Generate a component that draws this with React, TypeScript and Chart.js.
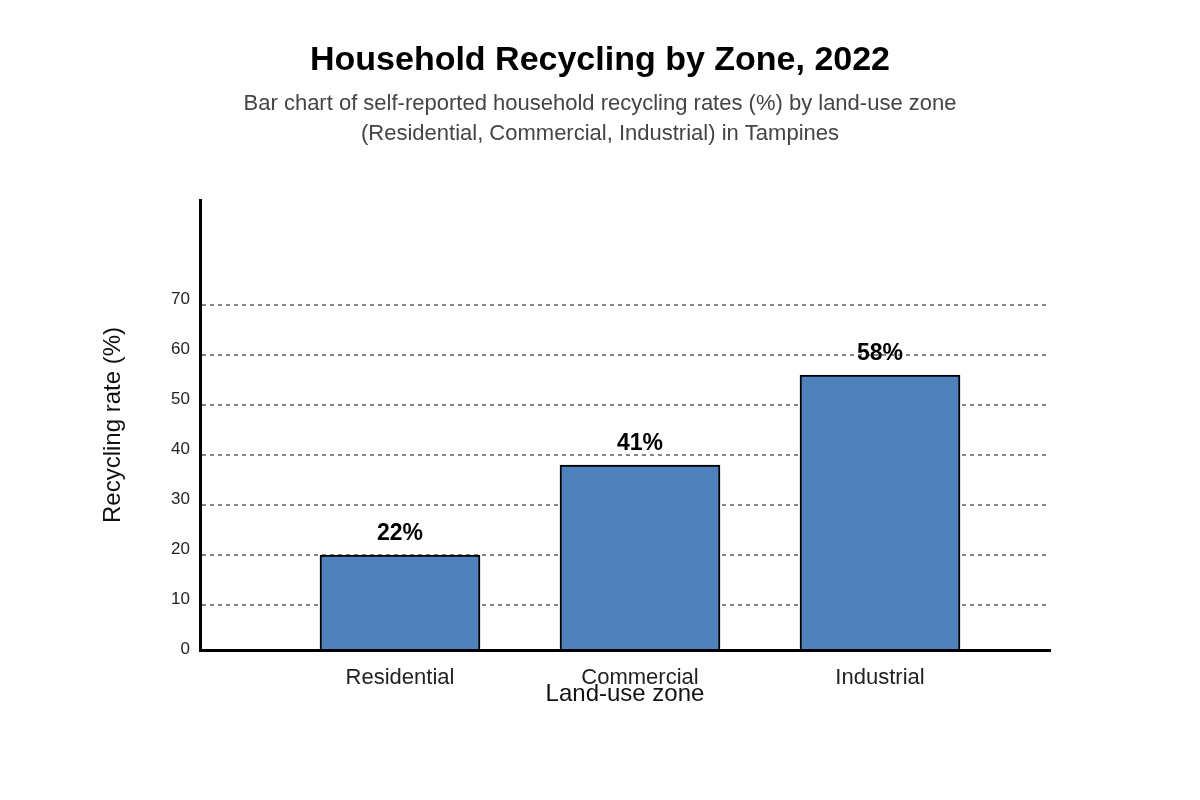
import React, { useEffect, useRef } from "react";
import { Chart, registerables } from "chart.js";

Chart.register(...registerables);

// ---- Data ----
const categories = ["Residential", "Commercial", "Industrial"];
const categoryPositions = [0, 1, 2];
const barValues = [20, 38, 56];
const barLabels = ["22%", "41%", "58%"];
const yTickValues = [0, 10, 20, 30, 40, 50, 60, 70];

const titleText = "Household Recycling by Zone, 2022";
const subtitleLines = [
  "Bar chart of self-reported household recycling rates (%) by land-use zone",
  "(Residential, Commercial, Industrial) in Tampines",
];
const xAxisTitle = "Land-use zone";
const yAxisTitle = "Recycling rate (%)";

const FONT = '"Liberation Sans", Arial, Helvetica, sans-serif';

export default function App() {
  const canvasRef = useRef<HTMLCanvasElement | null>(null);

  useEffect(() => {
    document.body.style.margin = "0";
    const canvas = canvasRef.current;
    if (!canvas) return;

    const valueLabels = {
      id: "valueLabels",
      afterDatasetsDraw(chart: any) {
        const ctx = chart.ctx;
        const meta = chart.getDatasetMeta(0);
        ctx.save();
        ctx.font = `bold 23px ${FONT}`;
        ctx.fillStyle = "#000";
        ctx.textAlign = "center";
        ctx.textBaseline = "middle";
        meta.data.forEach((bar: any, i: number) => {
          ctx.fillText(barLabels[i], bar.x, bar.y - 21);
        });
        ctx.restore();
      },
    };

    const chart = new Chart(canvas, {
      type: "bar",
      data: {
        datasets: [
          {
            data: categoryPositions.map((x, i) => ({ x, y: barValues[i] })),
            backgroundColor: "#4f81bd",
            borderColor: "#000000",
            borderWidth: 2,
            barThickness: 160,
          } as any,
        ],
      },
      options: {
        responsive: false,
        animation: false,
        devicePixelRatio: 1,
        font: { family: FONT },
        layout: { padding: { left: 150, right: 150, top: 0, bottom: 0 } },
        plugins: {
          legend: { display: false },
          tooltip: { enabled: false },
          title: {
            display: true,
            text: titleText,
            color: "#000",
            font: { family: FONT, size: 34, weight: "bold", lineHeight: 1.2 },
            padding: { top: 40.6, bottom: 0 },
          },
          subtitle: {
            display: true,
            text: subtitleLines,
            color: "#444",
            font: { family: FONT, size: 22, lineHeight: 30 / 22 },
            padding: { top: 7.6, bottom: 51 },
          },
        },
        scales: {
          x: {
            type: "linear",
            offset: false,
            min: -0.8333,
            max: 2.7083,
            afterBuildTicks: (s: any) => {
              s.ticks = categoryPositions.map((v) => ({ value: v }));
            },
            afterFit: (s: any) => {
              s.height = 150;
            },
            grid: { display: false, drawTicks: false, offset: false },
            border: { display: true, color: "#000", width: 3, z: 1 },
            ticks: {
              callback: (v: any) => categories[v as number] ?? "",
              font: { family: FONT, size: 22 },
              color: "#222",
              padding: 15,
              maxRotation: 0,
              autoSkip: false,
            },
            title: {
              display: true,
              text: xAxisTitle,
              color: "#111",
              font: { family: FONT, size: 24, lineHeight: 1.2 },
              padding: { top: 0, bottom: 91.6 },
            },
          },
          y: {
            type: "linear",
            min: 1,
            max: 91,
            afterBuildTicks: (s: any) => {
              s.ticks = yTickValues.map((v) => ({ value: v }));
            },
            afterFit: (s: any) => {
              s.width = 50;
            },
            grid: {
              drawTicks: false,
              lineWidth: 2,
              color: (ctx: any) =>
                ctx.tick && ctx.tick.value === 0 ? "rgba(0,0,0,0)" : "#858585",
            },
            border: { display: true, color: "#000", width: 3, dash: [4, 4], z: 1 },
            ticks: {
              font: { family: FONT, size: 17 },
              color: "#222",
              padding: 10,
              labelOffset: -6,
              callback: (v: any) => String(v),
            },
            title: {
              display: true,
              text: yAxisTitle,
              color: "#111",
              font: { family: FONT, size: 24, lineHeight: 1.2 },
              padding: { top: -51.4, bottom: 0 },
            },
          },
        },
      } as any,
      plugins: [valueLabels],
    });

    return () => chart.destroy();
  }, []);

  return (
    <div style={{ position: "absolute", left: 0, top: 0, width: 1200, height: 800, background: "#fff" }}>
      <canvas ref={canvasRef} width={1200} height={800} />
    </div>
  );
}
